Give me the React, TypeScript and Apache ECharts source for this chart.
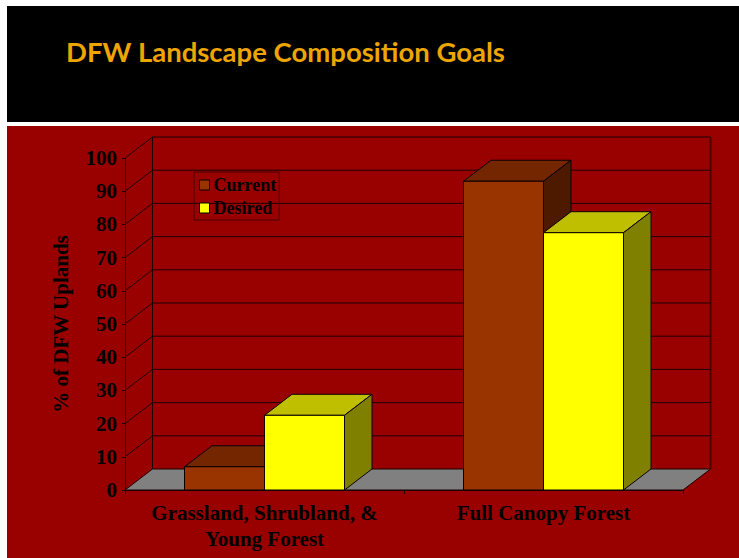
import React, { useEffect, useRef } from "react";
import * as echarts from "echarts";

const titleText = "DFW Landscape Composition Goals";
const categories = ["Grassland, Shrubland, &\nYoung Forest", "Full Canopy Forest"];
const currentValues = [7, 93];
const desiredValues = [22.5, 77.5];
const yTicks = [0, 10, 20, 30, 40, 50, 60, 70, 80, 90, 100];
const yAxisTitle = "% of DFW Uplands";

const DX = 27.5;
const DY = -21;
const BAR_W = 80;
const LINE = "#1c0000";
const SERIF = "'Liberation Serif', serif";

function barRender(side: -1 | 1, front: string, top: string, right: string) {
  return (_: any, api: any) => {
    const cat = api.value(0);
    const [cx, y] = api.coord([cat, api.value(1)]);
    const [, y0] = api.coord([cat, 0]);
    const x0 = side < 0 ? cx - BAR_W : cx;
    const x1 = x0 + BAR_W;
    const lineStyle = { stroke: "#0a0000", lineWidth: 1 };
    return {
      type: "group",
      children: [
        {
          type: "polygon",
          shape: { points: [[x0, y], [x0 + DX, y + DY], [x1 + DX, y + DY], [x1, y]] },
          style: { fill: top, ...lineStyle },
        },
        {
          type: "polygon",
          shape: { points: [[x1, y], [x1 + DX, y + DY], [x1 + DX, y0 + DY], [x1, y0]] },
          style: { fill: right, ...lineStyle },
        },
        {
          type: "rect",
          shape: { x: x0, y, width: BAR_W, height: y0 - y },
          style: { fill: front, ...lineStyle },
        },
      ],
    };
  };
}

function wallRender(_: any, api: any) {
  const v = api.value(0);
  const halfBand = api.size([1, 0])[0] / 2;
  const left = api.coord([0, v])[0] - halfBand;
  const right = api.coord([categories.length - 1, v])[0] + halfBand;
  const y = api.coord([0, v])[1];
  const children: any[] = [];
  const stroke = { stroke: LINE, lineWidth: 1 };
  if (v === 0) {
    children.push({
      type: "polygon",
      shape: { points: [[left, y], [left + DX, y + DY], [right + DX, y + DY], [right, y]] },
      style: { fill: "#808080", ...stroke },
    });
    const yTop = api.coord([0, yTicks[yTicks.length - 1]])[1] + DY;
    children.push({
      type: "line",
      shape: { x1: left + DX, y1: y + DY, x2: left + DX, y2: yTop },
      style: stroke,
    });
    children.push({
      type: "line",
      shape: { x1: right + DX, y1: y + DY, x2: right + DX, y2: yTop },
      style: { stroke: "#4a0000", lineWidth: 2 },
    });
  } else {
    children.push({
      type: "line",
      shape: { x1: left, y1: y, x2: left + DX, y2: y + DY },
      style: stroke,
    });
    children.push({
      type: "line",
      shape: { x1: left + DX, y1: y + DY, x2: right + DX, y2: y + DY },
      style: stroke,
    });
  }
  return { type: "group", children };
}

export default function App() {
  const ref = useRef<HTMLDivElement>(null);
  useEffect(() => {
    document.body.style.margin = "0";
    const chart = echarts.init(ref.current!, null, { renderer: "svg" });
    chart.setOption({
      animation: false,
      backgroundColor: "#ffffff",
      title: {
        text: titleText,
        left: 66,
        top: 37,
        padding: 0,
        textStyle: { fontFamily: "Lato", fontWeight: "bold", fontSize: 27.5, color: "#EDA600" },
      },
      graphic: [
        { type: "rect", z: -10, shape: { x: 7, y: 6, width: 732, height: 116 }, style: { fill: "#000000" } },
        { type: "rect", z: -10, shape: { x: 7, y: 126, width: 732, height: 432 }, style: { fill: "#990000" } },
      ],
      legend: {
        left: 194,
        top: 172,
        orient: "vertical",
        data: ["Current", "Desired"],
        padding: [4, 3, 3, 5],
        itemGap: 5,
        itemWidth: 10,
        itemHeight: 10,
        icon: "rect",
        borderColor: "#4a0000",
        borderWidth: 1,
        itemStyle: { borderColor: "#0a0000", borderWidth: 1 },
        textStyle: { fontFamily: SERIF, fontWeight: "bold", fontSize: 18, color: "#000000", padding: [0, 0, 0, -1] },
      },
      grid: { left: 125, top: 158, width: 558, height: 332 },
      xAxis: {
        type: "category",
        data: categories,
        axisLine: { lineStyle: { color: LINE, width: 1 } },
        axisTick: { show: true, length: 4, alignWithLabel: false, lineStyle: { color: LINE } },
        axisLabel: {
          fontFamily: SERIF,
          fontWeight: "bold",
          fontSize: 21,
          lineHeight: 26,
          color: "#000000",
          margin: 10,
          interval: 0,
        },
      },
      yAxis: {
        type: "value",
        min: 0,
        max: 100,
        interval: 10,
        name: yAxisTitle,
        nameLocation: "middle",
        nameGap: 54,
        nameRotate: 90,
        nameTextStyle: { fontFamily: SERIF, fontWeight: "bold", fontSize: 21, color: "#000000" },
        axisLine: { show: true, lineStyle: { color: LINE, width: 1 } },
        axisTick: { show: true, length: 3, lineStyle: { color: LINE } },
        splitLine: { show: false },
        axisLabel: {
          fontFamily: SERIF,
          fontWeight: "bold",
          fontSize: 21,
          color: "#000000",
          margin: 8,
        },
      },
      series: [
        {
          type: "custom",
          name: "wall",
          silent: true,
          z: 1,
          data: yTicks.map((t) => [t]),
          encode: { y: 0 },
          renderItem: wallRender,
        },
        {
          type: "custom",
          name: "Current",
          z: 2,
          itemStyle: { color: "#993300" },
          data: currentValues.map((v, i) => [i, v]),
          encode: { x: 0, y: 1 },
          renderItem: barRender(-1, "#993300", "#732600", "#4d1a00"),
        },
        {
          type: "custom",
          name: "Desired",
          z: 3,
          itemStyle: { color: "#ffff00" },
          data: desiredValues.map((v, i) => [i, v]),
          encode: { x: 0, y: 1 },
          renderItem: barRender(1, "#ffff00", "#bfbf00", "#808000"),
        },
      ],
    });
    return () => chart.dispose();
  }, []);
  return <div ref={ref} style={{ position: "absolute", left: 0, top: 0, width: 739, height: 558 }} />;
}
